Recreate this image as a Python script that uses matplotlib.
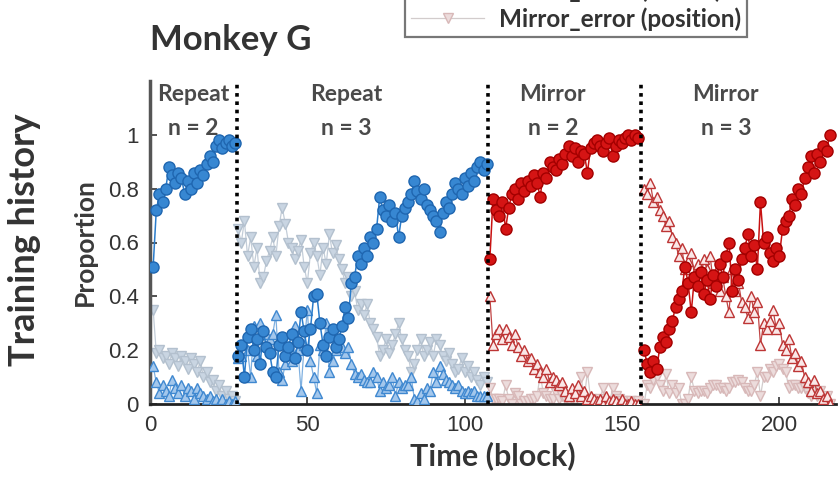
import numpy as np
import matplotlib
matplotlib.use("Agg")
import matplotlib.pyplot as plt
from matplotlib.lines import Line2D

# ---- session boundaries (block numbers) ----
seg_starts = [1, 28, 108, 157]
seg_ends = [27, 107, 155, 216]
boundaries = [27.5, 107.5, 156.0]
seg_names = ["Repeat", "Repeat", "Mirror", "Mirror"]
seg_n = ["n = 2", "n = 3", "n = 2", "n = 3"]
seg_label_x = [13.8, 62.5, 128.0, 183.0]

# ---- Repeat n = 2 ----
rep2_correct = [0.51, 0.72, 0.78, 0.75, 0.80, 0.88, 0.85, 0.82, 0.86, 0.84,
                0.78, 0.83, 0.80, 0.86, 0.82, 0.87, 0.85, 0.89, 0.92, 0.90,
                0.96, 0.98, 0.95, 0.97, 0.98, 0.96, 0.97]
rep2_error = [0.14, 0.08, 0.04, 0.07, 0.05, 0.03, 0.09, 0.06, 0.04, 0.07,
              0.03, 0.06, 0.05, 0.02, 0.06, 0.04, 0.03, 0.02, 0.03, 0.01,
              0.02, 0.00, 0.02, 0.00, 0.01, 0.00, 0.01]
rep2_other = [0.35, 0.19, 0.20, 0.17, 0.18, 0.15, 0.19, 0.17, 0.14, 0.18,
              0.16, 0.13, 0.17, 0.15, 0.12, 0.16, 0.10, 0.12, 0.08, 0.09,
              0.05, 0.07, 0.03, 0.05, 0.02, 0.03, 0.01]

# ---- Repeat n = 3 ----
rep3_correct = [0.18, 0.22, 0.10, 0.25, 0.28, 0.20, 0.24, 0.15, 0.27, 0.21,
                0.19, 0.12, 0.10, 0.22, 0.25, 0.18, 0.21, 0.26, 0.17, 0.23,
                0.34, 0.27, 0.20, 0.28, 0.40, 0.41, 0.30, 0.22, 0.18, 0.25,
                0.28, 0.21, 0.24, 0.29, 0.36, 0.32, 0.45, 0.47, 0.55, 0.52,
                0.58, 0.55, 0.62, 0.60, 0.65, 0.77, 0.72, 0.70, 0.74, 0.68,
                0.71, 0.62, 0.70, 0.73, 0.75, 0.78, 0.83, 0.79, 0.76, 0.80,
                0.74, 0.72, 0.70, 0.68, 0.64, 0.71, 0.75, 0.73, 0.78, 0.82,
                0.80, 0.78, 0.84, 0.81, 0.86, 0.83, 0.88, 0.90, 0.87, 0.89]
rep3_error = [0.17, 0.18, 0.22, 0.20, 0.10, 0.29, 0.18, 0.30, 0.26, 0.26,
              0.24, 0.26, 0.33, 0.12, 0.09, 0.15, 0.19, 0.16, 0.29, 0.20,
              0.05, 0.22, 0.35, 0.16, 0.10, 0.04, 0.22, 0.20, 0.30, 0.12,
              0.16, 0.20, 0.22, 0.21, 0.19, 0.21, 0.15, 0.11, 0.10, 0.11,
              0.09, 0.08, 0.08, 0.12, 0.10, 0.05, 0.08, 0.06, 0.07, 0.10,
              0.03, 0.08, 0.06, 0.07, 0.07, 0.10, 0.02, 0.01, 0.04, 0.02,
              0.06, 0.05, 0.12, 0.08, 0.14, 0.11, 0.09, 0.08, 0.07, 0.06,
              0.07, 0.05, 0.04, 0.05, 0.04, 0.05, 0.03, 0.03, 0.03, 0.03]
rep3_other = [0.65, 0.60, 0.68, 0.55, 0.62, 0.51, 0.58, 0.45, 0.47, 0.53,
              0.57, 0.62, 0.55, 0.66, 0.73, 0.67, 0.60, 0.58, 0.54, 0.57,
              0.61, 0.51, 0.45, 0.56, 0.60, 0.55, 0.48, 0.58, 0.52, 0.63,
              0.56, 0.59, 0.54, 0.50, 0.45, 0.47, 0.40, 0.42, 0.35, 0.37,
              0.33, 0.37, 0.30, 0.28, 0.25, 0.18, 0.20, 0.24, 0.19, 0.22,
              0.26, 0.30, 0.24, 0.20, 0.18, 0.12, 0.15, 0.20, 0.24, 0.18,
              0.20, 0.23, 0.18, 0.24, 0.22, 0.18, 0.16, 0.19, 0.15, 0.12,
              0.13, 0.17, 0.12, 0.14, 0.10, 0.12, 0.09, 0.07, 0.10, 0.08]

# ---- Mirror n = 2 ----
mir2_correct = [0.54, 0.76, 0.72, 0.70, 0.75, 0.65, 0.73, 0.78, 0.80, 0.76,
                0.82, 0.79, 0.83, 0.81, 0.85, 0.82, 0.77, 0.86, 0.84, 0.90,
                0.88, 0.87, 0.91, 0.89, 0.93, 0.96, 0.92, 0.95, 0.90, 0.94,
                0.93, 0.86, 0.95, 0.97, 0.98, 0.96, 0.94, 0.97, 0.99, 0.92,
                0.96, 0.98, 0.97, 0.99, 1.00, 0.98, 1.00, 0.99]
mir2_mirror = [0.40, 0.22, 0.26, 0.28, 0.24, 0.28, 0.25, 0.22, 0.26, 0.21,
               0.18, 0.20, 0.16, 0.17, 0.13, 0.15, 0.12, 0.10, 0.13, 0.08,
               0.10, 0.09, 0.07, 0.08, 0.05, 0.03, 0.06, 0.04, 0.07, 0.03,
               0.05, 0.02, 0.03, 0.02, 0.01, 0.02, 0.00, 0.03, 0.01, 0.02,
               0.01, 0.00, 0.02, 0.00, 0.00, 0.01, 0.00, 0.00]
mir2_position = [0.06, 0.02, 0.02, 0.02, 0.01, 0.07, 0.02, 0.00, 0.04, 0.03,
                 0.00, 0.01, 0.01, 0.02, 0.02, 0.03, 0.11, 0.04, 0.03, 0.02,
                 0.02, 0.04, 0.02, 0.03, 0.02, 0.01, 0.02, 0.01, 0.03, 0.10,
                 0.02, 0.12, 0.02, 0.01, 0.01, 0.02, 0.06, 0.01, 0.00, 0.06,
                 0.03, 0.02, 0.01, 0.01, 0.00, 0.01, 0.00, 0.01]

# ---- Mirror n = 3 ----
mir3_correct = [0.20, 0.15, 0.12, 0.16, 0.13, 0.21, 0.25, 0.23, 0.28, 0.31,
                0.36, 0.39, 0.42, 0.51, 0.45, 0.34, 0.47, 0.44, 0.49, 0.41,
                0.46, 0.39, 0.48, 0.44, 0.52, 0.47, 0.55, 0.60, 0.42, 0.50,
                0.46, 0.54, 0.58, 0.63, 0.55, 0.59, 0.50, 0.75, 0.60, 0.62,
                0.56, 0.53, 0.58, 0.55, 0.65, 0.68, 0.70, 0.76, 0.74, 0.80,
                0.78, 0.84, 0.88, 0.92, 0.86, 0.93, 0.90, 0.96, 0.94, 1.00]
mir3_mirror = [0.80, 0.78, 0.82, 0.75, 0.77, 0.72, 0.70, 0.66, 0.68, 0.62,
               0.60, 0.55, 0.58, 0.50, 0.53, 0.56, 0.48, 0.52, 0.46, 0.54,
               0.50, 0.55, 0.45, 0.49, 0.42, 0.47, 0.40, 0.34, 0.50, 0.42,
               0.45, 0.38, 0.36, 0.32, 0.40, 0.34, 0.38, 0.22, 0.30, 0.28,
               0.31, 0.35, 0.28, 0.30, 0.22, 0.20, 0.24, 0.17, 0.19, 0.14,
               0.16, 0.10, 0.08, 0.05, 0.09, 0.04, 0.05, 0.02, 0.03, 0.00]
mir3_position = [0.00, 0.07, 0.06, 0.09, 0.10, 0.07, 0.05, 0.11, 0.04, 0.07,
                 0.04, 0.06, 0.00, 0.00, 0.02, 0.10, 0.05, 0.04, 0.05, 0.05,
                 0.04, 0.06, 0.07, 0.07, 0.06, 0.06, 0.05, 0.06, 0.08, 0.08,
                 0.09, 0.08, 0.06, 0.05, 0.05, 0.07, 0.12, 0.03, 0.10, 0.10,
                 0.13, 0.12, 0.14, 0.15, 0.13, 0.12, 0.06, 0.07, 0.07, 0.06,
                 0.06, 0.06, 0.04, 0.03, 0.05, 0.03, 0.05, 0.02, 0.03, 0.00]

x_ticks = [0, 50, 100, 150, 200]
y_ticks = [0, 0.2, 0.4, 0.6, 0.8, 1.0]
y_tick_labels = ["0", "0.2", "0.4", "0.6", "0.8", "1"]

TXT = ["Lato", "DejaVu Sans"]
NUM = ["Liberation Sans", "DejaVu Sans"]

# marker styles
blue_c = dict(marker="o", color="#2a7ccb", mfc="#3787d2", mec="#1f66b0", ms=8, lw=1.1, mew=1.0)
blue_t = dict(marker="^", color="#7fb0e0", mfc="#a3c7ec", mec="#3f88d0", ms=7, lw=0.9, mew=1.0)
grey_t = dict(marker="v", color="#c3cdd8", mfc="#c9d5e2", mec="#b3c0ce", ms=7.5, lw=0.9, mew=1.0)
red_c = dict(marker="o", color="#c81212", mfc="#d51414", mec="#a30000", ms=8, lw=1.1, mew=1.0)
red_t = dict(marker="^", color="#c04444", mfc="#fae8e8", mec="#bd3535", ms=7, lw=0.9, mew=1.0)
pink_t = dict(marker="v", color="#d2cccc", mfc="#ecdcdc", mec="#d8b8b8", ms=7.5, lw=0.9, mew=1.0)

fig = plt.figure(figsize=(8.39, 4.78), dpi=100)
ax = fig.add_axes([150 / 839, 1 - 404 / 478, (836 - 150) / 839, (404 - 81) / 478])

def blocks(i):
    return np.arange(seg_starts[i], seg_ends[i] + 1)

# repeat sessions
for i, (c, e, o) in enumerate([(rep2_correct, rep2_error, rep2_other),
                               (rep3_correct, rep3_error, rep3_other)]):
    b = blocks(i)
    ax.plot(b, o, **grey_t, zorder=2)
    ax.plot(b, e, **blue_t, zorder=3)
    ax.plot(b, c, **blue_c, zorder=4)

# mirror sessions
for i, (c, m, p) in zip([2, 3], [(mir2_correct, mir2_mirror, mir2_position),
                                 (mir3_correct, mir3_mirror, mir3_position)]):
    b = blocks(i)
    ax.plot(b, p, **pink_t, zorder=2)
    ax.plot(b, m, **red_t, zorder=3)
    ax.plot(b, c, **red_c, zorder=4)

# session boundaries
for xb in boundaries:
    ax.axvline(xb, color="black", lw=2.6, ls=(0, (1.0, 1.3)), zorder=5)

# session labels
for xl, nm, nn in zip(seg_label_x, seg_names, seg_n):
    ax.text(xl, 1.15, nm, ha="center", va="center", fontsize=16.5, fontweight="bold",
            color="#4a4a4a", family=TXT, zorder=6)
    ax.text(xl, 1.025, nn, ha="center", va="center", fontsize=16.5, fontweight="bold",
            color="#4a4a4a", family=TXT, zorder=6)

ax.set_xlim(0, 218)
ax.set_ylim(0, 1.2)
ax.set_xticks(x_ticks)
ax.set_yticks(y_ticks)
ax.set_yticklabels(y_tick_labels)
ax.tick_params(direction="in", length=5, width=1.2, labelsize=16, colors="#333333", pad=8)
for lab in ax.get_xticklabels() + ax.get_yticklabels():
    lab.set_family(NUM)
ax.spines["top"].set_visible(False)
ax.spines["right"].set_visible(False)
ax.spines["left"].set_color("#555555")
ax.spines["left"].set_linewidth(2.5)
ax.spines["bottom"].set_color("#222222")
ax.spines["bottom"].set_linewidth(2.0)

ax.set_xlabel("Time (block)", fontsize=22, fontweight="bold", family=TXT, color="#333333", labelpad=4)
ax.set_ylabel("Proportion", fontsize=19, fontweight="bold", family=TXT, color="#3a3a3a", labelpad=8)

fig.text(150 / 839, 1 - 40 / 478, "Monkey G", fontsize=25, fontweight="bold", family=TXT,
         color="#333333", ha="left", va="center")
fig.text(25 / 839, 1 - 240 / 478, "Training history", fontsize=26, fontweight="bold", family=TXT,
         color="#333333", rotation=90, ha="center", va="center")

handles = [Line2D([], [], **red_t), Line2D([], [], **pink_t)]
labels = ["Mirror_error (mirror)", "Mirror_error (position)"]
leg = fig.legend(handles, labels, loc="lower left", bbox_to_anchor=(405 / 839, 1 - 37 / 478),
                 borderaxespad=0, frameon=True, fancybox=False, edgecolor="#555555",
                 prop={"family": TXT, "size": 17.5, "weight": "bold"}, handlelength=3.0,
                 handletextpad=0.6, borderpad=0.25, labelspacing=0.2)
leg.get_frame().set_linewidth(1.6)
for t in leg.get_texts():
    t.set_color("#333333")

fig.savefig("out.png", dpi=100)
